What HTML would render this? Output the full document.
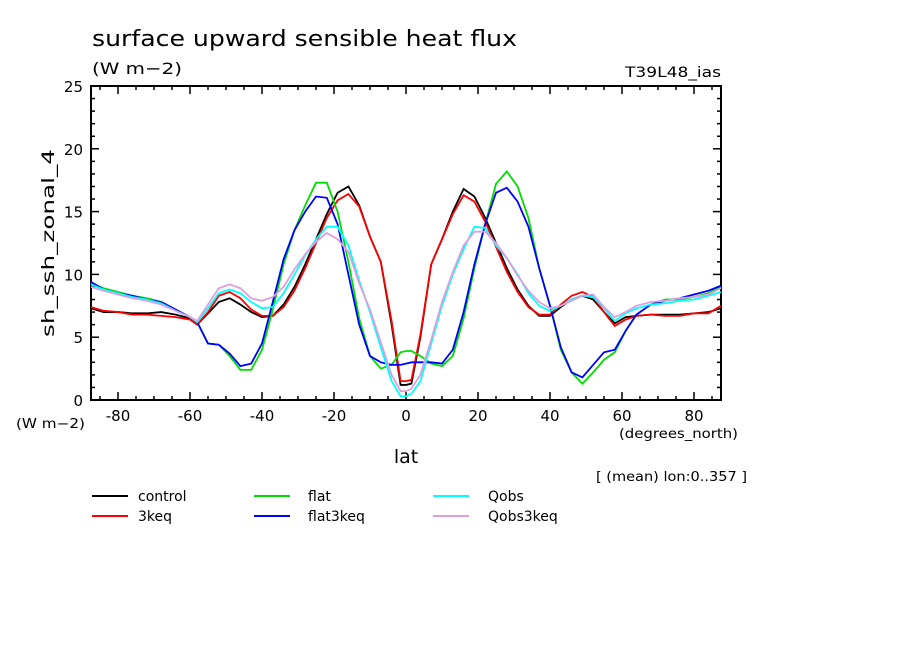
<!DOCTYPE html>
<html><head><meta charset="utf-8"><style>
html,body{margin:0;padding:0;background:#fff;}
svg{display:block;font-family:"DejaVu Sans","Liberation Sans",sans-serif;}
</style></head><body>
<svg id="chart" width="904" height="654">
<rect width="904" height="654" fill="#fff"/>
<text x="92" y="46" font-size="22" textLength="425" lengthAdjust="spacingAndGlyphs">surface upward sensible heat flux</text>
<text x="92" y="74" font-size="16" textLength="90" lengthAdjust="spacingAndGlyphs">(W m−2)</text>
<text x="625" y="77" font-size="14" textLength="96" lengthAdjust="spacingAndGlyphs">T39L48_ias</text>
<text x="54" y="243" font-size="17" text-anchor="middle" textLength="188" lengthAdjust="spacingAndGlyphs" transform="rotate(-90 54 243)">sh_ssh_zonal_4</text>
<text x="16" y="428" font-size="13" textLength="69" lengthAdjust="spacingAndGlyphs">(W m−2)</text>
<text x="619" y="438" font-size="13" textLength="119" lengthAdjust="spacingAndGlyphs">(degrees_north)</text>
<text x="406" y="463" font-size="19" text-anchor="middle">lat</text>
<text x="596" y="481" font-size="13" textLength="151" lengthAdjust="spacingAndGlyphs">[ (mean) lon:0..357 ]</text>
<g id="axes"></g>
<g id="series"></g>
<g id="legend"></g>
</svg>
<script>
const lats=[-87.5,-84,-80,-76,-72,-68,-64,-60,-58,-55,-52,-49,-46,-43,-40,-37,-34,-31,-28,-25,-22,-19,-16,-13,-10,-7,-4,-1.5,0,1.5,4,7,10,13,16,19,22,25,28,31,34,37,40,43,46,49,52,55,58,61,64,68,72,76,80,84,87.5];
const control=[7.3,7.0,7.0,6.9,6.9,7.0,6.8,6.5,6.0,6.9,7.8,8.1,7.6,7.0,6.6,6.7,7.6,9.0,10.8,12.8,14.8,16.5,17.0,15.5,13.0,11.0,6.0,1.2,1.2,1.3,5.0,10.8,12.8,15.0,16.8,16.2,14.5,12.5,10.5,8.8,7.5,6.7,6.7,7.4,8.0,8.3,8.0,7.0,6.1,6.6,6.7,6.8,6.8,6.8,6.9,7.0,7.3];
const keq3=[7.4,7.1,7.0,6.8,6.8,6.7,6.6,6.4,6.0,7.0,8.3,8.6,8.1,7.2,6.7,6.7,7.4,8.7,10.5,12.5,14.5,15.9,16.4,15.4,13.0,11.0,6.3,1.5,1.5,1.6,5.2,10.8,12.8,14.8,16.3,15.8,14.2,12.2,10.2,8.6,7.4,6.8,6.8,7.6,8.3,8.6,8.2,7.0,5.9,6.4,6.7,6.8,6.7,6.7,6.9,6.9,7.5];
const flat=[9.3,8.9,8.6,8.3,8.1,7.8,7.2,6.6,6.2,4.5,4.4,3.5,2.4,2.4,4.0,7.2,10.8,13.5,15.5,17.3,17.3,15.0,11.0,6.5,3.5,2.5,2.8,3.8,3.9,3.9,3.5,2.9,2.7,3.5,6.5,10.5,14.0,17.2,18.2,17.0,14.5,10.5,7.5,4.0,2.2,1.3,2.2,3.2,3.8,5.5,6.8,7.6,8.0,8.0,8.2,8.5,9.0];
const flat3keq=[9.4,8.8,8.5,8.3,8.0,7.8,7.2,6.6,6.2,4.5,4.4,3.7,2.7,2.9,4.5,7.8,11.2,13.5,15.0,16.2,16.1,14.0,10.0,6.0,3.5,3.0,2.8,2.8,2.9,3.0,3.0,3.0,2.9,4.0,7.0,10.8,14.0,16.5,16.9,15.8,13.8,10.5,7.5,4.2,2.2,1.8,2.8,3.8,4.0,5.5,6.8,7.6,7.9,8.1,8.4,8.7,9.1];
const qobs=[9.2,8.8,8.5,8.2,8.0,7.7,7.1,6.6,6.2,7.3,8.5,8.8,8.5,7.8,7.3,7.4,8.5,10.0,11.5,12.8,13.8,13.8,12.3,9.5,7.0,4.2,1.5,0.3,0.3,0.5,1.5,4.5,7.5,10.0,12.0,13.8,13.7,12.3,11.3,10.0,8.5,7.5,7.1,7.5,8.0,8.3,8.2,7.3,6.3,6.9,7.3,7.6,7.7,7.9,8.0,8.3,8.6];
const qobs3keq=[9.0,8.7,8.4,8.1,7.9,7.6,7.1,6.6,6.3,7.6,8.9,9.2,8.9,8.1,7.9,8.2,9.0,10.4,11.6,12.6,13.3,12.8,11.8,9.3,7.2,4.6,2.0,0.7,0.7,0.9,2.0,4.8,7.8,10.2,12.3,13.4,13.4,12.5,11.3,9.9,8.7,7.8,7.3,7.5,7.9,8.3,8.4,7.4,6.6,7.0,7.5,7.8,7.9,8.1,8.2,8.4,8.9];
const seriesNames=["control","3keq","flat","flat3keq","Qobs","Qobs3keq"];
const seriesData=[control,keq3,flat,flat3keq,qobs,qobs3keq];
const seriesColors=["#000","#f00","#0d0","#00f","#0ff","#dda0dd"];
const xTicks=[-80,-60,-40,-20,0,20,40,60,80];
const yTicks=[0,5,10,15,20,25];

const NS="http://www.w3.org/2000/svg";
const X0=91,X1=721,Y0=400,Y1=86,LMIN=-87.5,LMAX=87.5,VMIN=0,VMAX=25;
const sx=l=>X0+(l-LMIN)/(LMAX-LMIN)*(X1-X0);
const sy=v=>Y0-(v-VMIN)/(VMAX-VMIN)*(Y0-Y1);
function mk(tag,attrs,parent){const e=document.createElementNS(NS,tag);for(const k in attrs)e.setAttribute(k,attrs[k]);parent.appendChild(e);return e;}
const axes=document.getElementById('axes');
const frame=mk('rect',{x:X0,y:Y1,width:X1-X0,height:Y0-Y1,fill:'none',stroke:'#000','stroke-width':2},axes);


for(let l=-85;l<=85;l+=5){const major=l%20===0;const len=major?8:4;
 const t=mk('line',{x1:sx(l),x2:sx(l),y1:Y0,y2:Y0-len,stroke:'#000','stroke-width':1.5},axes);
 
 
 mk('line',{x1:sx(l),x2:sx(l),y1:Y1,y2:Y1+len,stroke:'#000','stroke-width':1.5},axes);}
for(let v=0;v<=25;v+=1){const major=v%5===0;const len=major?8:4;
 const t=mk('line',{x1:X0,x2:X0+len,y1:sy(v),y2:sy(v),stroke:'#000','stroke-width':1.5},axes);
 
 
 mk('line',{x1:X1,x2:X1-len,y1:sy(v),y2:sy(v),stroke:'#000','stroke-width':1.5},axes);}
xTicks.forEach(l=>{const t=mk('text',{x:sx(l),y:Y0+21,'font-size':15,'text-anchor':'middle'},axes);t.textContent=l;
 
 });
yTicks.forEach(v=>{const t=mk('text',{x:X0-8,y:sy(v)+6,'font-size':15,'text-anchor':'end'},axes);t.textContent=v;
 
 });
const sg=document.getElementById('series');
seriesData.forEach((d,i)=>{const p=mk('polyline',{points:d.map((v,j)=>sx(lats[j])+','+sy(v)).join(' '),fill:'none',stroke:seriesColors[i],'stroke-width':1.8},sg);
 
 });
const lg=document.getElementById('legend');
const cols=[[92,138],[254,308],[433,488]];
seriesNames.forEach((n,i)=>{const c=cols[Math.floor(i/2)];const y=i%2===0?496:516;
 const g=mk('g',{},lg);
 
 
 mk('line',{x1:c[0],x2:c[0]+36,y1:y,y2:y,stroke:seriesColors[i],'stroke-width':2},g);
 const t=mk('text',{x:c[1],y:y+5,'font-size':14},g);t.textContent=n;});
</script>
</body></html>
